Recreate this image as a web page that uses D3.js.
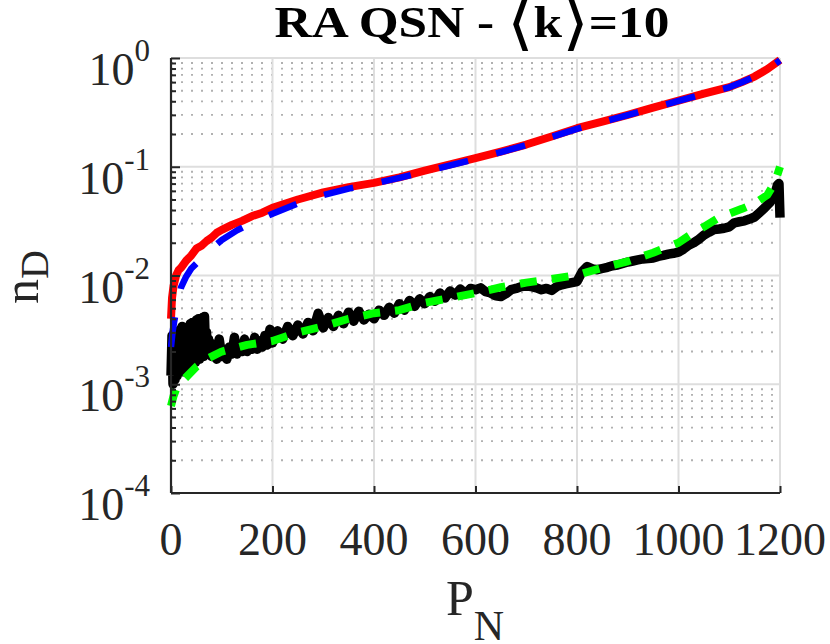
<!DOCTYPE html>
<html>
<head>
<meta charset="utf-8">
<script src="https://cdn.jsdelivr.net/npm/d3@7"></script>
<style>
  body { margin: 0; background: #fff; }
  svg { display: block; font-family: "Liberation Serif", "Times New Roman", serif; }
</style>
</head>
<body>
<svg width="830" height="644"></svg>
<script>
// Data (P_N vs n_D)
var redP = [0, 2, 5, 10, 15, 20, 30, 40, 50, 60, 70, 80, 90, 100, 120, 140, 160, 180, 200, 250, 300, 350, 400, 450, 500, 550, 600, 650, 700, 750, 800, 850, 900, 950, 1000, 1050, 1100, 1125, 1150, 1175, 1200];
var redV = [0.0040, 0.0062, 0.0080, 0.0100, 0.0112, 0.0118, 0.0137, 0.0153, 0.0177, 0.0188, 0.0207, 0.0223, 0.0247, 0.0263, 0.0292, 0.0318, 0.0352, 0.0378, 0.0420, 0.0500, 0.0580, 0.0650, 0.0710, 0.0800, 0.0920, 0.1050, 0.1200, 0.1380, 0.1600, 0.1900, 0.2260, 0.2600, 0.3000, 0.3500, 0.4050, 0.4700, 0.5400, 0.6000, 0.6750, 0.7900, 0.9600];

var blueP = [0, 3, 6, 10, 15, 20, 30, 40, 55, 70, 85, 100, 130, 160, 200, 250, 300, 350, 400, 450, 500, 550, 600, 650, 700, 750, 800, 850, 900, 950, 1000, 1050, 1100, 1125, 1150, 1175, 1200];
var blueV = [0.0022, 0.0030, 0.0037, 0.0047, 0.0062, 0.0078, 0.0098, 0.0116, 0.0136, 0.0160, 0.0185, 0.0212, 0.0260, 0.0305, 0.0370, 0.0460, 0.0550, 0.0630, 0.0700, 0.0790, 0.0900, 0.1030, 0.1180, 0.1360, 0.1580, 0.1880, 0.2230, 0.2580, 0.2980, 0.3480, 0.4030, 0.4680, 0.5380, 0.5980, 0.6730, 0.7880, 0.9500];

var blackP = [0, 2, 4, 6, 8, 10, 12, 14, 16, 18, 20, 22, 24, 26, 28, 30, 32, 34, 36, 38, 40, 42, 44, 46, 48, 50, 52, 54, 56, 58, 60, 62, 64, 66, 68, 70, 72, 74, 76, 78, 80,
  85, 90, 95, 100, 105, 110, 115, 120, 125, 130, 135, 140, 145, 150, 155, 160, 165, 170, 175, 180, 185, 190, 195, 200,
  210, 220, 230, 240, 250, 260, 270, 280, 290, 300, 310, 320, 330, 340, 350, 360, 370, 380, 390, 400,
  410, 420, 430, 440, 450, 460, 470, 480, 490, 500, 510, 520, 530, 540, 550, 560, 570, 580, 590, 600, 610, 620, 630, 640, 650, 660, 670, 680, 690, 700,
  710, 720, 730, 740, 750, 760, 770, 780, 790, 800, 810, 820, 830, 840, 850, 860, 870, 880, 890, 900, 910, 920, 930, 940, 950, 960, 970, 980, 990, 1000,
  1010, 1020, 1030, 1040, 1050, 1060, 1070, 1080, 1090, 1100, 1110, 1120, 1130, 1140, 1150, 1160, 1170, 1180, 1190, 1195, 1198, 1200];
var blackV = [0.0012, 0.0028, 0.0010, 0.0025, 0.0011, 0.0030, 0.0012, 0.0027, 0.0013, 0.0032, 0.0014, 0.0034, 0.0013, 0.0029, 0.0015, 0.0033, 0.0014, 0.0028, 0.0016, 0.0036, 0.0015, 0.0037, 0.0017, 0.0031, 0.0016, 0.0039, 0.0018, 0.0040, 0.0017, 0.0033, 0.0019, 0.0041, 0.0018, 0.0042, 0.0020, 0.0030, 0.0019, 0.0026, 0.0020, 0.0024, 0.0018,
  0.0023, 0.0017, 0.0026, 0.0018, 0.0021, 0.0017, 0.0022, 0.0019, 0.0027, 0.0019, 0.0023, 0.0020, 0.0026, 0.0020, 0.0023, 0.0021, 0.0027, 0.0021, 0.0025, 0.0022, 0.0028, 0.0023, 0.0032, 0.0024,
  0.0031, 0.0026, 0.0034, 0.0028, 0.0035, 0.0029, 0.0037, 0.0031, 0.0045, 0.0033, 0.0041, 0.0034, 0.0043, 0.0036, 0.0046, 0.0038, 0.0047, 0.0039, 0.0044, 0.0040,
  0.0048, 0.0043, 0.0051, 0.0045, 0.0055, 0.0048, 0.0059, 0.0052, 0.0061, 0.0055, 0.0064, 0.0058, 0.0069, 0.0062, 0.0072, 0.0066, 0.0075, 0.0068, 0.0076, 0.0074, 0.0077, 0.0071, 0.0069, 0.0065, 0.0064, 0.0068, 0.0074, 0.0076, 0.0079, 0.0080,
  0.0079, 0.0077, 0.0074, 0.0076, 0.0073, 0.0079, 0.0082, 0.0084, 0.0086, 0.0088, 0.0108, 0.0121, 0.0115, 0.0113, 0.0116, 0.0119, 0.0123, 0.0125, 0.0129, 0.0133, 0.0136, 0.0139, 0.0142, 0.0143, 0.0145, 0.0150, 0.0153, 0.0157, 0.0160, 0.0164,
  0.0175, 0.0190, 0.0200, 0.0215, 0.0235, 0.0250, 0.0265, 0.0268, 0.0272, 0.0280, 0.0305, 0.0312, 0.0318, 0.0330, 0.0345, 0.0380, 0.0420, 0.0470, 0.0560, 0.0680, 0.0700, 0.0340];

var greenP = [0, 5, 10, 25, 50, 75, 100, 150, 200, 250, 300, 350, 400, 450, 500, 550, 600, 650, 700, 750, 800, 850, 900, 950, 1000, 1025, 1050, 1075, 1100, 1125, 1150, 1175, 1190, 1200];
var greenV = [0.00063, 0.00078, 0.00090, 0.00110, 0.00145, 0.00175, 0.00200, 0.00230, 0.00250, 0.00300, 0.00340, 0.00400, 0.00450, 0.00480, 0.00560, 0.00620, 0.00690, 0.00780, 0.00860, 0.00930, 0.01010, 0.01180, 0.01350, 0.01620, 0.02000, 0.02400, 0.02800, 0.03300, 0.03700, 0.04100, 0.04600, 0.05500, 0.07200, 0.10000];

var xTicks = [0, 200, 400, 600, 800, 1000, 1200];
var yDecades = [1e-4, 1e-3, 1e-2, 1e-1, 1];
var yExps = ["-4", "-3", "-2", "-1", "0"];

// Layout
var svg = d3.select('svg');
var plotL = 171, plotR = 780, plotT = 58, plotB = 493;

var x = d3.scaleLinear().domain([0, 1200]).range([plotL, plotR]);
var y = d3.scaleLog().domain([1e-4, 1]).range([plotB, plotT]);

// minor values inside every decade
var yMinor = [];
yDecades.slice(0, -1).forEach(function(d) {
  for (var m = 2; m <= 9; m++) yMinor.push(d * m);
});

// Grid
var grid = svg.append('g');
grid.selectAll('.minor').data(yMinor).enter().append('line')
  .attr('x1', plotL).attr('x2', plotR)
  .attr('y1', d => y(d)).attr('y2', d => y(d))
  .style('stroke', '#b0b0b0').style('stroke-width', 1.8)
  .style('stroke-dasharray', '2,8');
grid.selectAll('.hmajor').data(yDecades).enter().append('line')
  .attr('x1', plotL).attr('x2', plotR)
  .attr('y1', d => y(d)).attr('y2', d => y(d))
  .style('stroke', '#dedede').style('stroke-width', 2);
grid.selectAll('.vmajor').data(xTicks.slice(1)).enter().append('line')
  .attr('x1', d => x(d)).attr('x2', d => x(d))
  .attr('y1', plotT).attr('y2', plotB)
  .style('stroke', '#dedede').style('stroke-width', 2);

// Curves
function path(P, V) {
  return d3.line().x(d => x(d[0])).y(d => y(d[1]))(d3.zip(P, V));
}
function curve(P, V, color, w, dash) {
  svg.append('path').attr('d', path(P, V))
    .style('fill', 'none').style('stroke', color).style('stroke-width', w)
    .style('stroke-linejoin', 'round')
    .style('stroke-dasharray', dash || null);
}
curve(blackP, blackV, '#000000', 9.5);
curve(greenP, greenV, '#00ff00', 8, '17,15');
curve(redP, redV, '#ff0000', 8);
curve(blueP, blueV, '#0000ff', 6.5, '30,29');

// Axes
var tickFont = 46;
var yAxis = svg.append('g').attr('transform', 'translate(' + plotL + ',0)')
  .call(d3.axisLeft(y).tickValues(yDecades).tickSize(-9).tickFormat(''));
svg.append('g').attr('transform', 'translate(' + plotL + ',0)')
  .call(d3.axisLeft(y).tickValues(yMinor).tickSize(-5).tickFormat(''))
  .call(g => g.select('.domain').remove());
var xAxis = svg.append('g').attr('transform', 'translate(0,' + plotB + ')')
  .call(d3.axisBottom(x).tickValues(xTicks).tickSize(-7).tickFormat(''));

svg.selectAll('.domain').style('stroke', '#262626').style('stroke-width', 2.2);
svg.selectAll('.tick line').style('stroke', '#262626').style('stroke-width', 2);
// drop outer ticks of the domain path
yAxis.select('.domain').attr('d', 'M0,' + plotT + 'V' + plotB);
xAxis.select('.domain').attr('d', 'M' + plotL + ',0H' + plotR);

// y tick labels 10^k
var yl = svg.append('g').selectAll('text').data(yDecades).enter().append('text')
  .attr('x', 150).attr('y', d => y(d) + 27)
  .attr('text-anchor', 'end')
  .style('font-size', tickFont + 'px').style('fill', '#262626');
yl.append('tspan').text('10');
yl.append('tspan').attr('dy', -24).style('font-size', '31px')
  .text((d, i) => yExps[i]);

// x tick labels
svg.append('g').selectAll('text').data(xTicks).enter().append('text')
  .attr('x', d => x(d)).attr('y', 555)
  .attr('text-anchor', 'middle')
  .style('font-size', tickFont + 'px').style('fill', '#262626')
  .text(d => d);

// axis titles
var xl = svg.append('text').attr('x', 446).attr('y', 615)
  .attr('text-anchor', 'start').style('font-size', '50px').style('fill', '#262626');
xl.append('tspan').text('P');
xl.append('tspan').attr('dy', 25).style('font-size', '42px').text('N');

var ylab = svg.append('text').attr('transform', 'translate(38,304) rotate(-90)')
  .attr('text-anchor', 'start').style('font-size', '50px').style('fill', '#262626');
ylab.append('tspan').text('n');
ylab.append('tspan').attr('dy', 10).style('font-size', '40px').text('D');

// title, a bit wider than the plain font
var t = svg.append('text').attr('transform', 'translate(472,37) scale(1.14,1)')
  .attr('text-anchor', 'middle').style('font-size', '45px')
  .style('font-weight', 'bold').style('fill', '#000');
t.append('tspan').text('RA QSN - ');
t.append('tspan').style('font-weight', 'normal').style('font-family', 'DejaVu Sans')
  .style('font-size', '60px').attr('dy', 6).text('\u27E8');
t.append('tspan').attr('dy', -6).text('k');
t.append('tspan').style('font-weight', 'normal').style('font-family', 'DejaVu Sans')
  .style('font-size', '60px').attr('dy', 6).text('\u27E9');
t.append('tspan').attr('dy', -6).text('=10');
</script>
</body>
</html>
